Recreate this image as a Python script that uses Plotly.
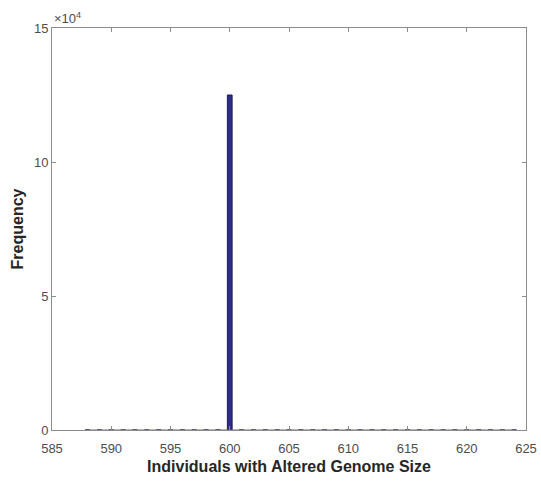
import plotly.graph_objects as go

# Data: genome sizes (bin centres) and frequency counts
genome_sizes = list(range(588, 625))
frequencies = [0] * len(genome_sizes)
frequencies[genome_sizes.index(600)] = 125000

x_ticks = [585, 590, 595, 600, 605, 610, 615, 620, 625]
y_ticks = [0, 50000, 100000, 150000]
y_tick_labels = ["0", "5", "10", "15"]

FONT = "Liberation Sans, Arial"

fig = go.Figure()
# faint zero-height bin edges along the baseline
fig.add_trace(go.Scatter(
    x=[genome_sizes[0], genome_sizes[-1]], y=[0, 0], mode="lines",
    line=dict(color="#6a6a6a", width=1), showlegend=False, hoverinfo="skip",
))
fig.add_trace(go.Bar(
    x=genome_sizes, y=frequencies, width=0.4,
    marker=dict(color="#2f2c8a", line=dict(color="#1c1a5e", width=1)),
    showlegend=False,
))

axis_common = dict(
    showline=True, linecolor="#8c8c8c", linewidth=1, mirror="ticks",
    ticks="inside", ticklen=4, tickcolor="#8c8c8c", showgrid=False, zeroline=False,
    automargin=False,
    tickfont=dict(family=FONT, size=13, color="#4d4d4d"),
)
fig.update_layout(
    width=541, height=483,
    margin=dict(l=52, r=15, t=28, b=53),
    plot_bgcolor="white", paper_bgcolor="white",
    xaxis=dict(range=[585, 625], tickvals=x_ticks, ticklabelstandoff=6,
               title=dict(text="<b>Individuals with Altered Genome Size</b>", standoff=6,
                          font=dict(family=FONT, size=16, color="#262626")),
               **axis_common),
    yaxis=dict(range=[0, 150000], tickvals=y_ticks, ticktext=y_tick_labels,
               title=dict(text="<b>Frequency</b>", standoff=6,
                          font=dict(family=FONT, size=16, color="#262626")),
               **axis_common),
    annotations=[dict(text="×10<sup>4</sup>", xref="paper", yref="paper", x=0, y=1,
                      xanchor="left", yanchor="bottom", showarrow=False,
                      font=dict(family=FONT, size=13, color="#4d4d4d"))],
)
fig.write_html("out.html")
